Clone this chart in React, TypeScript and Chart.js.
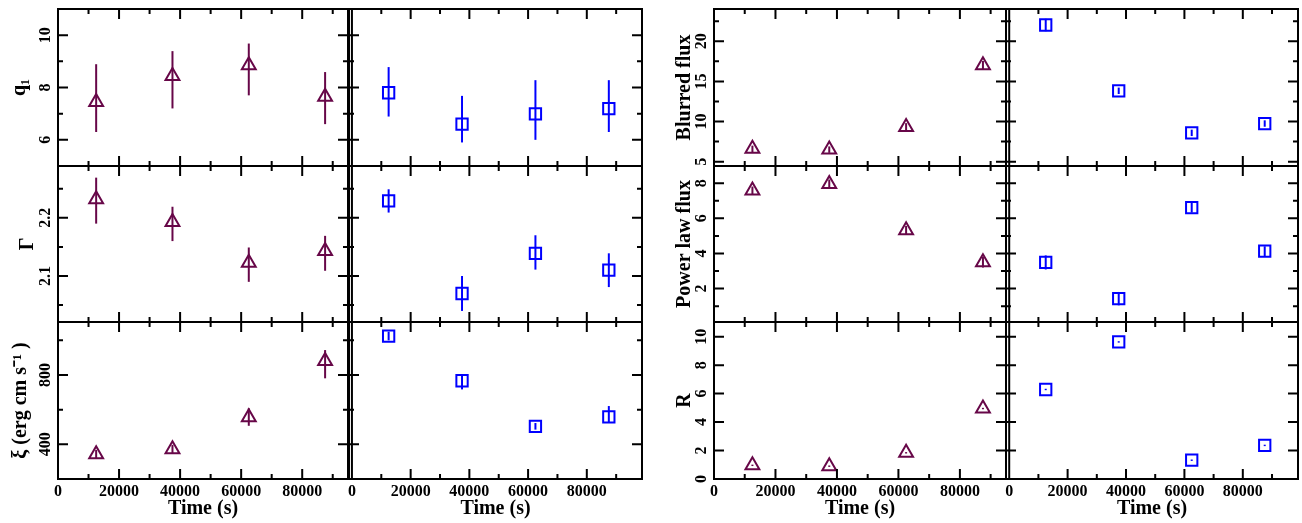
import React, { useEffect, useRef } from 'react';
import { Chart, registerables } from 'chart.js';

Chart.register(...registerables);

// ---------------- data ----------------
const obsTime = [12500, 37500, 62500, 87500];

const q1Left = [7.45, 8.44, 8.85, 7.65];
const q1LeftLo = [6.3, 7.2, 7.7, 6.6];
const q1LeftHi = [8.89, 9.39, 9.68, 8.59];
const q1Right = [7.8, 6.6, 6.99, 7.19];
const q1RightLo = [6.89, 5.9, 6.0, 6.3];
const q1RightHi = [8.78, 7.68, 8.28, 8.28];

const gammaLeft = [2.232, 2.193, 2.123, 2.143];
const gammaLeftLo = [2.19, 2.16, 2.09, 2.109];
const gammaLeftHi = [2.269, 2.219, 2.149, 2.169];
const gammaRight = [2.229, 2.07, 2.139, 2.11];
const gammaRightLo = [2.209, 2.04, 2.111, 2.081];
const gammaRightHi = [2.249, 2.1, 2.17, 2.139];

const xiLeft = [343, 372, 556, 881];
const xiLeftLo = [318, 347, 507, 781];
const xiLeftHi = [368, 397, 608, 944];
const xiRight = [1025, 767, 504, 559];
const xiRightLo = [1000, 717, 485, 525];
const xiRightHi = [1050, 800, 523, 621];

const blurLeft = [6.61, 6.52, 9.33, 17.0];
const blurLeftLo = [6.2, 6.1, 8.85, 16.45];
const blurLeftHi = [7.0, 6.9, 9.8, 17.55];
const blurRight = [22.03, 13.83, 8.59, 9.75];
const blurRightLo = [21.25, 13.43, 8.19, 9.35];
const blurRightHi = [22.8, 14.23, 8.99, 10.15];

const powLeft = [7.58, 7.96, 5.32, 3.5];
const powLeftLo = [7.35, 7.71, 5.07, 3.2];
const powLeftHi = [7.81, 8.21, 5.57, 3.8];
const powRight = [3.49, 1.43, 6.61, 4.13];
const powRightLo = [3.09, 1.05, 6.33, 3.85];
const powRightHi = [3.89, 1.81, 6.89, 4.41];

const rLeft = [0.96, 0.9, 1.84, 4.95];
const rLeftLo = [0.91, 0.85, 1.79, 4.9];
const rLeftHi = [1.01, 0.95, 1.89, 5.0];
const rRight = [6.29, 9.63, 1.32, 2.36];
const rRightLo = [6.24, 9.58, 1.27, 2.31];
const rRightHi = [6.34, 9.68, 1.37, 2.41];

// ---------------- tick labels ----------------
const timeTicks = [0, 20000, 40000, 60000, 80000];
const timeMinor = [10000, 30000, 50000, 70000, 90000];
const q1Ticks = [6, 8, 10];
const q1Minor = [7, 9];
const gammaTicks = [2.1, 2.2];
const gammaMinor = [2.05, 2.15, 2.25];
const xiTicks = [400, 800];
const xiMinor = [600, 1000];
const blurTicks = [5, 10, 15, 20];
const blurMinor = [7.5, 12.5, 17.5, 22.5];
const powTicks = [2, 4, 6, 8];
const powMinor = [1, 3, 5, 7];
const rTicks = [0, 2, 4, 6, 8, 10];
const rMinor: number[] = [];

// ---------------- styling / layout ----------------
const FONT_FAMILY = "'Liberation Serif', 'Times New Roman', Times, serif";
const MAROON = '#670748';
const BLUE = '#0000ff';
const M = 20; // spare canvas margin around each plot box
const PAGE_H = 523;
const Y_LABEL_GAP = 11.7;

const COLS = [
  { x0: 58, x1: 348, min: 0, max: 95000, labelsY: true, canvasLeft: 0, zero: false },
  { x0: 349, x1: 642, min: -1000, max: 98800, labelsY: false, canvasLeft: 0, zero: true },
  { x0: 714, x1: 1006, min: 0, max: 95000, labelsY: true, canvasLeft: 650, zero: false },
  { x0: 1006, x1: 1298, min: -1100, max: 98900, labelsY: false, canvasLeft: 0, zero: true },
];
const ROWS = [
  { y0: 9, y1: 166 },
  { y0: 166, y1: 322 },
  { y0: 322, y1: 479 },
];

type Quant = {
  row: number;
  group: number;
  title: string;
  titleCenter: number;
  min: number;
  max: number;
  ticks: number[];
  minor: number[];
  a: number[][];
  b: number[][];
};

const QUANTS: Quant[] = [
  { row: 0, group: 0, title: 'q₁', titleCenter: 19.8, min: 5, max: 11, ticks: q1Ticks, minor: q1Minor,
    a: [q1Left, q1LeftLo, q1LeftHi], b: [q1Right, q1RightLo, q1RightHi] },
  { row: 1, group: 0, title: 'Γ', titleCenter: 27.8, min: 2.021, max: 2.289, ticks: gammaTicks, minor: gammaMinor,
    a: [gammaLeft, gammaLeftLo, gammaLeftHi], b: [gammaRight, gammaRightLo, gammaRightHi] },
  { row: 2, group: 0, title: 'ξ (erg cm s⁻¹ )', titleCenter: 21, min: 200, max: 1106, ticks: xiTicks, minor: xiMinor,
    a: [xiLeft, xiLeftLo, xiLeftHi], b: [xiRight, xiRightLo, xiRightHi] },
  { row: 0, group: 1, title: 'Blurred flux', titleCenter: 685, min: 4.46, max: 24.02, ticks: blurTicks, minor: blurMinor,
    a: [blurLeft, blurLeftLo, blurLeftHi], b: [blurRight, blurRightLo, blurRightHi] },
  { row: 1, group: 1, title: 'Power law flux', titleCenter: 685, min: 0.1, max: 8.98, ticks: powTicks, minor: powMinor,
    a: [powLeft, powLeftLo, powLeftHi], b: [powRight, powRightLo, powRightHi] },
  { row: 2, group: 1, title: 'R', titleCenter: 685, min: 0, max: 11.03, ticks: rTicks, minor: rMinor,
    a: [rLeft, rLeftLo, rLeftHi], b: [rRight, rRightLo, rRightHi] },
];

type Panel = {
  key: string;
  q: Quant;
  col: (typeof COLS)[number];
  row: (typeof ROWS)[number];
  series: number[][];
  color: string;
  marker: string;
  labelsX: boolean;
};

const PANELS: Panel[] = [];
QUANTS.forEach((q) => {
  [0, 1].forEach((k) => {
    PANELS.push({
      key: `${q.group}-${q.row}-${k}`,
      q,
      col: COLS[q.group * 2 + k],
      row: ROWS[q.row],
      series: k === 0 ? q.a : q.b,
      color: k === 0 ? MAROON : BLUE,
      marker: k === 0 ? 'triangle' : 'rect',
      labelsX: q.row === 2,
    });
  });
});

function canvasRect(p: Panel) {
  const left = p.col.labelsY ? p.col.canvasLeft : p.col.x0 - M;
  const top = p.row.y0 - M;
  const right = p.col.x1 + M;
  const bottom = p.labelsX ? PAGE_H : p.row.y1 + M;
  return { left, top, width: right - left, height: bottom - top };
}

let measureCtx: CanvasRenderingContext2D | null = null;
function textWidth(s: string, font: string) {
  if (!measureCtx) measureCtx = document.createElement('canvas').getContext('2d');
  if (!measureCtx) return s.length * 8;
  measureCtx.font = font;
  return measureCtx.measureText(s).width;
}

function framePlugin(p: Panel) {
  return {
    id: 'frame-' + p.key,
    afterDraw(chart: any) {
      const { ctx, chartArea } = chart;
      const { left, right, top, bottom } = chartArea;
      const xs = chart.scales.x;
      const ys = chart.scales.y;
      ctx.save();
      ctx.strokeStyle = '#000';
      ctx.lineWidth = 2;
      ctx.lineCap = 'butt';
      ctx.beginPath();
      const xTick = (v: number, len: number) => {
        const px = xs.getPixelForValue(v);
        if (px < left - 0.5 || px > right + 0.5) return;
        ctx.moveTo(px, bottom);
        ctx.lineTo(px, bottom - len);
        ctx.moveTo(px, top);
        ctx.lineTo(px, top + len);
      };
      const yTick = (v: number, len: number) => {
        const py = ys.getPixelForValue(v);
        if (py < top - 0.5 || py > bottom + 0.5) return;
        ctx.moveTo(left, py);
        ctx.lineTo(left + len, py);
        ctx.moveTo(right, py);
        ctx.lineTo(right - len, py);
      };
      timeTicks.forEach((v) => xTick(v, 10));
      timeMinor.forEach((v) => xTick(v, 5));
      p.q.ticks.forEach((v) => yTick(v, 10));
      p.q.minor.forEach((v) => yTick(v, 5));
      if (p.col.zero) {
        const z = xs.getPixelForValue(0);
        ctx.moveTo(z, top);
        ctx.lineTo(z, bottom);
      }
      ctx.stroke();
      ctx.strokeRect(left, top, right - left, bottom - top);
      ctx.restore();
    },
  };
}

function buildConfig(p: Panel): any {
  const [vals, lo, hi] = p.series;
  const tickFont = { family: FONT_FAMILY, size: 16, weight: 'bold' as const };
  const titleFont = { family: FONT_FAMILY, size: 20, weight: 'bold' as const };
  const tickFontString = `bold 16px ${FONT_FAMILY}`;
  const widest = Math.max(...p.q.ticks.map((t) => textWidth(String(t), tickFontString)));
  const rect = canvasRect(p);

  const datasets: any[] = vals.map((_, i) => ({
    data: [
      { x: obsTime[i], y: lo[i] },
      { x: obsTime[i], y: hi[i] },
    ],
    showLine: true,
    borderColor: p.color,
    borderWidth: 2,
    pointRadius: 0,
    pointHoverRadius: 0,
    fill: false,
    clip: false,
  }));
  datasets.push({
    data: vals.map((v, i) => ({ x: obsTime[i], y: v })),
    showLine: false,
    pointStyle: p.marker,
    pointRadius: 8,
    pointHoverRadius: 8,
    borderWidth: 2,
    pointBorderWidth: 2,
    borderColor: p.color,
    pointBorderColor: p.color,
    backgroundColor: 'rgba(0,0,0,0)',
    pointBackgroundColor: 'rgba(0,0,0,0)',
    clip: false,
  });

  return {
    type: 'scatter',
    data: { datasets },
    plugins: [framePlugin(p)],
    options: {
      animation: false,
      responsive: false,
      maintainAspectRatio: false,
      events: [],
      layout: {
        padding: {
          left: p.col.labelsY ? 0 : M,
          top: M,
          right: M,
          bottom: p.labelsX ? 0 : M,
        },
      },
      plugins: {
        legend: { display: false },
        tooltip: { enabled: false },
        title: { display: false },
      },
      scales: {
        x: {
          type: 'linear',
          min: p.col.min,
          max: p.col.max,
          display: p.labelsX,
          grid: { display: false, drawTicks: false },
          border: { display: false },
          ticks: {
            autoSkip: false,
            minRotation: 0,
            maxRotation: 0,
            padding: 3,
            color: '#000',
            font: tickFont,
            callback: (v: any) => String(v),
          },
          afterBuildTicks: (s: any) => {
            s.ticks = timeTicks.map((v) => ({ value: v }));
          },
          afterFit: (s: any) => {
            s.height = p.labelsX ? PAGE_H - p.row.y1 : 0;
          },
          title: {
            display: true,
            text: 'Time (s)',
            color: '#000',
            font: titleFont,
            padding: { top: 0, bottom: 2 },
          },
        },
        y: {
          type: 'linear',
          min: p.q.min,
          max: p.q.max,
          display: p.col.labelsY,
          grid: { display: false, drawTicks: false },
          border: { display: false },
          ticks: {
            autoSkip: false,
            minRotation: 90,
            maxRotation: 90,
            crossAlign: 'center',
            padding: Y_LABEL_GAP - widest / 2,
            color: '#000',
            font: tickFont,
            callback: (v: any) => String(v),
          },
          afterBuildTicks: (s: any) => {
            s.ticks = p.q.ticks.map((v) => ({ value: v }));
          },
          afterFit: (s: any) => {
            s.width = p.col.labelsY ? p.col.x0 - rect.left : 0;
          },
          title: {
            display: true,
            text: p.q.title,
            color: '#000',
            font: titleFont,
            padding: { top: p.q.titleCenter - rect.left - 12, bottom: 0 },
          },
        },
      },
    },
  };
}

function PanelChart({ p }: { p: Panel }) {
  const ref = useRef<HTMLCanvasElement | null>(null);
  const rect = canvasRect(p);
  useEffect(() => {
    if (!ref.current) return;
    const chart = new Chart(ref.current, buildConfig(p));
    return () => chart.destroy();
  }, [p]);
  return (
    <canvas
      ref={ref}
      width={rect.width}
      height={rect.height}
      style={{
        position: 'absolute',
        left: rect.left,
        top: rect.top,
        width: rect.width,
        height: rect.height,
      }}
    />
  );
}

export default function App() {
  return (
    <div
      style={{
        position: 'absolute',
        left: 0,
        top: 0,
        width: 1302,
        height: 523,
        background: '#ffffff',
        overflow: 'hidden',
      }}
    >
      {PANELS.map((p) => (
        <PanelChart key={p.key} p={p} />
      ))}
    </div>
  );
}
